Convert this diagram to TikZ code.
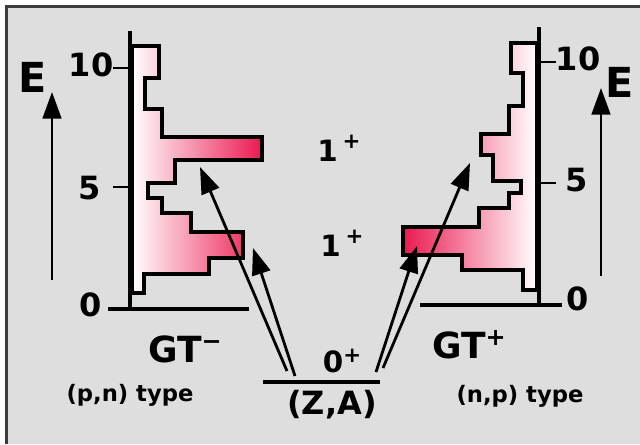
\documentclass[tikz,border=0pt]{standalone}
\usepackage{fontspec}
\setmainfont{DejaVu Sans}
\usetikzlibrary{arrows.meta}
\definecolor{bg}{RGB}{222,222,222}
\definecolor{crim}{RGB}{235,25,80}
\definecolor{frame}{RGB}{60,60,60}
\begin{document}
\begin{tikzpicture}[x=0.75pt,y=-0.75pt,font=\bfseries,
  ax/.style={line width=2.8pt},
  hist/.style={line width=2.6pt,line join=miter},
  arr/.style={line width=2.1pt,-{Triangle[length=20pt,width=14pt]}},
  earr/.style={line width=2.1pt,-{Triangle[length=20pt,width=14pt]}},
  lbl/.style={inner sep=0pt,anchor=center},
  big/.style={font=\fontsize{31}{31}\selectfont\bfseries},
  num/.style={font=\fontsize{24}{24}\selectfont\bfseries},
  gt/.style={font=\fontsize{27}{27}\selectfont\bfseries},
  spin/.style={font=\fontsize{22}{22}\selectfont\bfseries},
  typ/.style={font=\fontsize{17}{17}\selectfont\bfseries}]
\useasboundingbox (0,0) rectangle (640,444);
\fill[white] (0,0) rectangle (640,444);
\fill[bg] (6,6) rectangle (640,444);
\draw[line width=2pt,frame] (6.5,444) -- (6.5,6.5) -- (640,6.5);

% left histogram (GT-)
\draw[hist,left color=white,right color=crim]
  (132,46) -- (159,46) -- (159,78) -- (145,78) -- (145,109) -- (162,109)
  -- (162,137) -- (262,137) -- (262,160) -- (175,160) -- (175,183)
  -- (148,183) -- (148,198) -- (162,198) -- (162,213) -- (191,213)
  -- (191,232) -- (243,232) -- (243,258) -- (209,258) -- (209,274)
  -- (144,274) -- (144,293) -- (132,293) -- cycle;
% right histogram (GT+)
\draw[hist,left color=crim,right color=white]
  (537,43) -- (511,43) -- (511,73) -- (523,73) -- (523,106) -- (509,106)
  -- (509,134) -- (481,134) -- (481,155) -- (493,155) -- (493,181)
  -- (521,181) -- (521,193) -- (509,193) -- (509,208) -- (479,208)
  -- (479,227) -- (403,227) -- (403,255) -- (462,255) -- (462,270)
  -- (523,270) -- (523,290) -- (537,290) -- cycle;

% left axis
\draw[ax] (130,31) -- (130,309);
\draw[ax] (108,309) -- (249,309);
\draw[line width=2.2pt] (113,68) -- (130,68);
\draw[line width=2.2pt] (113,187) -- (130,187);
\node[lbl,num] (l10) at (91,65) {10};
\node[lbl,num] (l5) at (90,188) {5};
\node[lbl,num] (l0) at (91,305) {0};
% right axis
\draw[ax] (539,27) -- (539,305);
\draw[ax] (420,305) -- (562,305);
\draw[line width=2.2pt] (539,62) -- (556,62);
\draw[line width=2.2pt] (539,183) -- (556,183);
\node[lbl,num] (r10) at (578,59) {10};
\node[lbl,num] (r5) at (577,180) {5};
\node[lbl,num] (r0) at (578,299) {0};

% energy arrows
\node[lbl,big] (EL) at (33,77) {E};
\node[lbl,big] (ER) at (620,82) {E};
\coordinate (elb) at (52,280);
\coordinate (elt) at (52,92);
\coordinate (erb) at (601,276);
\coordinate (ert) at (601,88);
\draw[earr] (elb) -- (elt);
\draw[earr] (erb) -- (ert);

% ground state
\coordinate (gsl) at (263,382);
\coordinate (gsr) at (380,382);
\draw[line width=2.8pt] (gsl) -- (gsr);
\node[lbl,font=\fontsize{24}{24}\selectfont\bfseries] (za) at (332,405) {(Z,A)};
\node[lbl,spin] (gs) at (342,361) {0\raisebox{0.35em}{\fontsize{16}{16}\selectfont +}};

% transition arrows
\coordinate (a1s) at (287,371);
\coordinate (a1e) at (200,167);
\coordinate (a2s) at (295,376);
\coordinate (a2e) at (253,248);
\coordinate (a3s) at (376,372);
\coordinate (a3e) at (417,246);
\coordinate (a4s) at (383,368);
\coordinate (a4e) at (470,163);
\draw[arr] (a1s) -- (a1e);
\draw[arr] (a2s) -- (a2e);
\draw[arr] (a3s) -- (a3e);
\draw[arr] (a4s) -- (a4e);

% spin labels
\node[lbl,spin] (s1) at (339,148) {1\,\raisebox{0.45em}{\fontsize{16}{16}\selectfont +}};
\node[lbl,spin] (s2) at (342,243) {1\,\raisebox{0.45em}{\fontsize{16}{16}\selectfont +}};

% GT labels
\node[lbl,gt] (gtm) at (185,349) {GT\raisebox{0.35em}{\fontsize{18}{18}\selectfont −}};
\node[lbl,gt] (gtp) at (469,345) {GT\raisebox{0.35em}{\fontsize{18}{18}\selectfont +}};
\node[lbl,typ] (pn) at (130,395) {(p,n) type};
\node[lbl,typ] (np) at (520,396) {(n,p) type};
\end{tikzpicture}
\end{document}
